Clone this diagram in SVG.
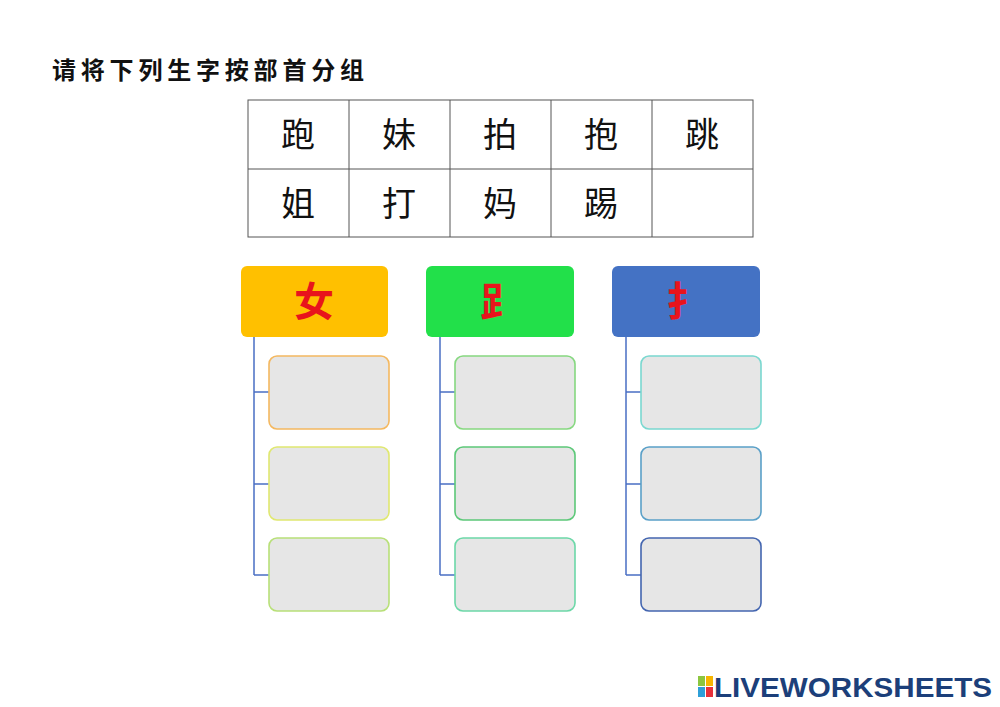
<svg xmlns="http://www.w3.org/2000/svg" width="1000" height="707" viewBox="0 0 1000 707">
<style>
.cjk{font-family:"Noto Sans CJK SC","Noto Sans CJK JP",serif;}
.cell{font-size:34px;fill:#111;text-anchor:middle;}
.hd{font-size:40px;fill:#e8141c;text-anchor:middle;font-weight:bold;}
.ch{fill:#e6e6e6;stroke-width:1.6;}
.ln{stroke:#4a6fc4;stroke-width:1.5;fill:none;}
</style>
<rect width="1000" height="707" fill="#fff"/>
<text x="52" y="79" class="cjk" font-size="24" font-weight="bold" fill="#111" textLength="312" lengthAdjust="spacing">请将下列生字按部首分组</text>
<g id="table" fill="none" stroke="#555" stroke-width="1">
<rect x="248" y="100" width="505" height="137"/>
<line x1="248" y1="169" x2="753" y2="169"/>
<line x1="349" y1="100" x2="349" y2="237"/>
<line x1="450" y1="100" x2="450" y2="237"/>
<line x1="551" y1="100" x2="551" y2="237"/>
<line x1="652" y1="100" x2="652" y2="237"/>
</g>
<g class="cjk">
<text class="cell" x="298" y="147">跑</text><text class="cell" x="399" y="147">妹</text><text class="cell" x="500" y="147">拍</text><text class="cell" x="601" y="147">抱</text><text class="cell" x="702" y="147">跳</text>
<text class="cell" x="298" y="216">姐</text><text class="cell" x="399" y="216">打</text><text class="cell" x="500" y="216">妈</text><text class="cell" x="601" y="216">踢</text>
</g>
<g id="connectors">
<path class="ln" d="M254 337V575M254 392H269M254 484H269M254 575H269"/>
<path class="ln" d="M440 337V575M440 392H455M440 484H455M440 575H455"/>
<path class="ln" d="M626 337V575M626 392H641M626 484H641M626 575H641"/>
</g>
<g id="h1"><rect x="241" y="266" width="147" height="71" rx="6" fill="#ffc000"/><text class="cjk hd" x="314" y="316">女</text></g>
<g id="h2"><rect x="426" y="266" width="148" height="71" rx="6" fill="#22e04a"/><text class="cjk hd" x="500" y="316">𧾷</text></g>
<g id="h3"><rect x="612" y="266" width="148" height="71" rx="6" fill="#4472c4"/><text class="cjk hd" x="686" y="316">扌</text></g>
<g id="c11"><rect class="ch" x="269" y="356" width="120" height="73" rx="8" stroke="#f4b860"/></g>
<g id="c12"><rect class="ch" x="269" y="447" width="120" height="73" rx="8" stroke="#e0e870"/></g>
<g id="c13"><rect class="ch" x="269" y="538" width="120" height="73" rx="8" stroke="#b8e078"/></g>
<g id="c21"><rect class="ch" x="455" y="356" width="120" height="73" rx="8" stroke="#86d880"/></g>
<g id="c22"><rect class="ch" x="455" y="447" width="120" height="73" rx="8" stroke="#5cc878"/></g>
<g id="c23"><rect class="ch" x="455" y="538" width="120" height="73" rx="8" stroke="#6cd8a8"/></g>
<g id="c31"><rect class="ch" x="641" y="356" width="120" height="73" rx="8" stroke="#7ad8d0"/></g>
<g id="c32"><rect class="ch" x="641" y="447" width="120" height="73" rx="8" stroke="#5aa0c8"/></g>
<g id="c33"><rect class="ch" x="641" y="538" width="120" height="73" rx="8" stroke="#4466b0"/></g>
<g id="logo" font-family="Liberation Sans,sans-serif" font-weight="bold">
<rect x="698" y="676" width="7" height="10" fill="#8cc63f"/><rect x="706" y="676" width="7" height="10" fill="#f7b500"/>
<rect x="698" y="687" width="7" height="10" fill="#2e9fd8"/><rect x="706" y="687" width="7" height="10" fill="#e8303a"/>
<text x="714" y="697" font-size="27" fill="#1c3f7a" textLength="278" lengthAdjust="spacingAndGlyphs">LIVEWORKSHEETS</text>
</g>
</svg>
